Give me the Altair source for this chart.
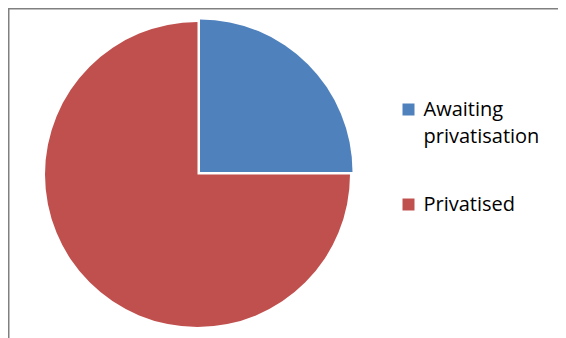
import altair as alt
import pandas as pd

categories = ["Awaiting privatisation", "Privatised"]
values = [25, 75]
order = [0, 1]
colors = ["#4F81BD", "#C0504D"]

df = pd.DataFrame({"category": categories, "value": values, "order": order})
total = sum(values)

FONT = "Open Sans"

color_enc = alt.Color(
    "category:N",
    scale=alt.Scale(domain=categories, range=colors),
    legend=alt.Legend(
        title=None,
        orient="none",
        legendX=390.5,
        legendY=91.5,
        padding=0,
        symbolType="square",
        symbolSize=144,
        symbolStrokeWidth=0,
        labelFont=FONT,
        labelFontSize=20,
        labelColor="#000000",
        labelOffset=5,
        labelLimit=300,
        labelBaseline="middle",
        rowPadding=48,
        labelExpr="split(datum.label, ' ')",
    ),
)

base = alt.Chart(df).transform_window(
    cum="sum(value)", sort=[alt.SortField("order")]
).transform_calculate(start="datum.cum - datum.value")


def slice_layer(cat, cx, cy):
    return base.transform_filter(alt.datum.category == cat).mark_arc(outerRadius=152.5).encode(
        theta=alt.Theta("start:Q", scale=alt.Scale(domain=[0, total])),
        theta2="cum:Q",
        x=alt.value(cx),
        y=alt.value(cy),
        color=color_enc,
    )


blue = slice_layer("Awaiting privatisation", 192, 164)
red = slice_layer("Privatised", 189.5, 166.5)

frame = alt.Data(values=[{}])
top_rule = alt.Chart(frame).mark_rule(color="#808080", strokeWidth=1.5).encode(
    x=alt.value(0), x2=alt.value(560), y=alt.value(0.75)
)
left_rule = alt.Chart(frame).mark_rule(color="#808080", strokeWidth=1.5).encode(
    x=alt.value(0.75), y=alt.value(0), y2=alt.value(340)
)

chart = alt.layer(top_rule, left_rule, red, blue).properties(
    width=550,
    height=330,
    autosize=alt.AutoSizeParams(type="none"),
    padding=0,
).configure_view(stroke=None).configure(
    background="white",
    style={"guide-label": {"lineHeight": 27}},
)

chart.save("out.html", embed_options={"renderer": "svg", "actions": False})
